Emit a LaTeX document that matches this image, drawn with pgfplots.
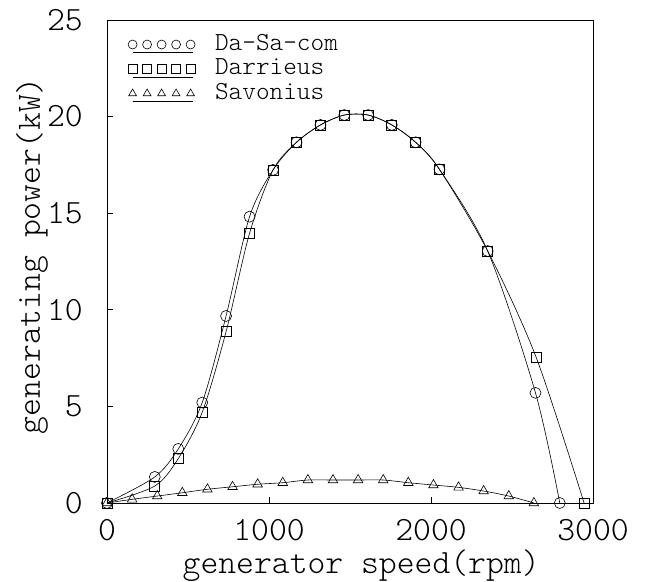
\documentclass[border=0pt]{standalone}
\usepackage{fontspec}
\newfontfamily\lmlt{lmmonolt10-regular}[Extension=.otf]
\usepackage{pgfplots}
\pgfplotsset{compat=1.18}
\begin{document}
\begin{tikzpicture}
\useasboundingbox (-107bp,-79bp) rectangle (538bp,503bp);
\begin{axis}[
 scale only axis, width=486bp, height=483bp,
 xmin=0,xmax=3000,ymin=0,ymax=25,
 xtick={0,1000,2000,3000}, ytick={0,5,10,15,20,25},
 xtick pos=left, ytick pos=left, tick align=inside,
 major tick length=6bp,
 axis line style={line width=0.8bp},
 tick style={line width=0.8bp, black},
 scaled x ticks=false,
 /pgf/number format/assume math mode=true,
 /pgf/number format/1000 sep={},
 ticklabel style={font=\fontsize{34bp}{36bp}\selectfont\lmlt},
 xticklabel style={anchor=center, yshift=-27bp, inner sep=0pt},
 yticklabel style={anchor=east, xshift=-24bp, inner sep=0pt},
 xlabel={generator speed(rpm)}, ylabel={generating power(kW)},
 label style={font=\fontsize{34bp}{36bp}\selectfont\lmlt},
 xlabel style={at={(axis description cs:0.523,-0.13)}, anchor=center},
 ylabel style={at={(axis description cs:-0.154,0.512)}, anchor=center},
 every axis plot/.append style={black, line width=0.6bp, mark options={solid, fill=white, line width=0.6bp}},
 legend image code/.code={
   \draw[#1] (0bp,-8bp) -- (60bp,-8bp);
   \draw[#1, only marks, mark size=4.5bp] plot coordinates {(0bp,0bp)(14.5bp,0bp)(29bp,0bp)(43.5bp,0bp)(58bp,0bp)};
 },
 legend style={at={(axis description cs:0.043,0.975)}, anchor=north west, draw=none, fill=none,
   font=\fontsize{26bp}{26bp}\selectfont\lmlt, row sep=0bp, column sep=20bp, inner sep=0pt,
   nodes={inner sep=0pt, text height=18bp, text depth=6.5bp}},
 legend cell align=left,
]
\addplot[smooth, mark=o, mark size=5.5bp] coordinates {
(0,0)(295,1.35)(440,2.8)(588,5.2)(735,9.68)(880,14.82)(1025,17.24)(1170,18.67)(1318,19.57)(1465,20.08)(1612,20.08)(1758,19.57)(1905,18.67)(2052,17.27)(2350,13.04)(2645,5.7)(2795,0)};
\addlegendentry{Da-Sa-com}
\addplot[smooth, mark=square, mark size=5bp] coordinates {
(0,0)(295,0.88)(440,2.3)(588,4.7)(735,8.87)(880,13.96)(1025,17.24)(1170,18.67)(1318,19.57)(1465,20.08)(1612,20.08)(1758,19.57)(1905,18.67)(2052,17.27)(2350,13.04)(2650,7.52)(2945,0)};
\addlegendentry{Darrieus}
\addplot[smooth, mark=triangle, mark size=5.5bp] coordinates {
(0,0)(155,0.19)(310,0.36)(465,0.53)(620,0.71)(775,0.84)(930,0.97)(1085,1.05)(1240,1.19)(1395,1.19)(1550,1.19)(1705,1.19)(1860,1.05)(2015,0.93)(2170,0.81)(2325,0.62)(2480,0.36)(2635,0)};
\addlegendentry{Savonius}
\end{axis}
\end{tikzpicture}
\end{document}
